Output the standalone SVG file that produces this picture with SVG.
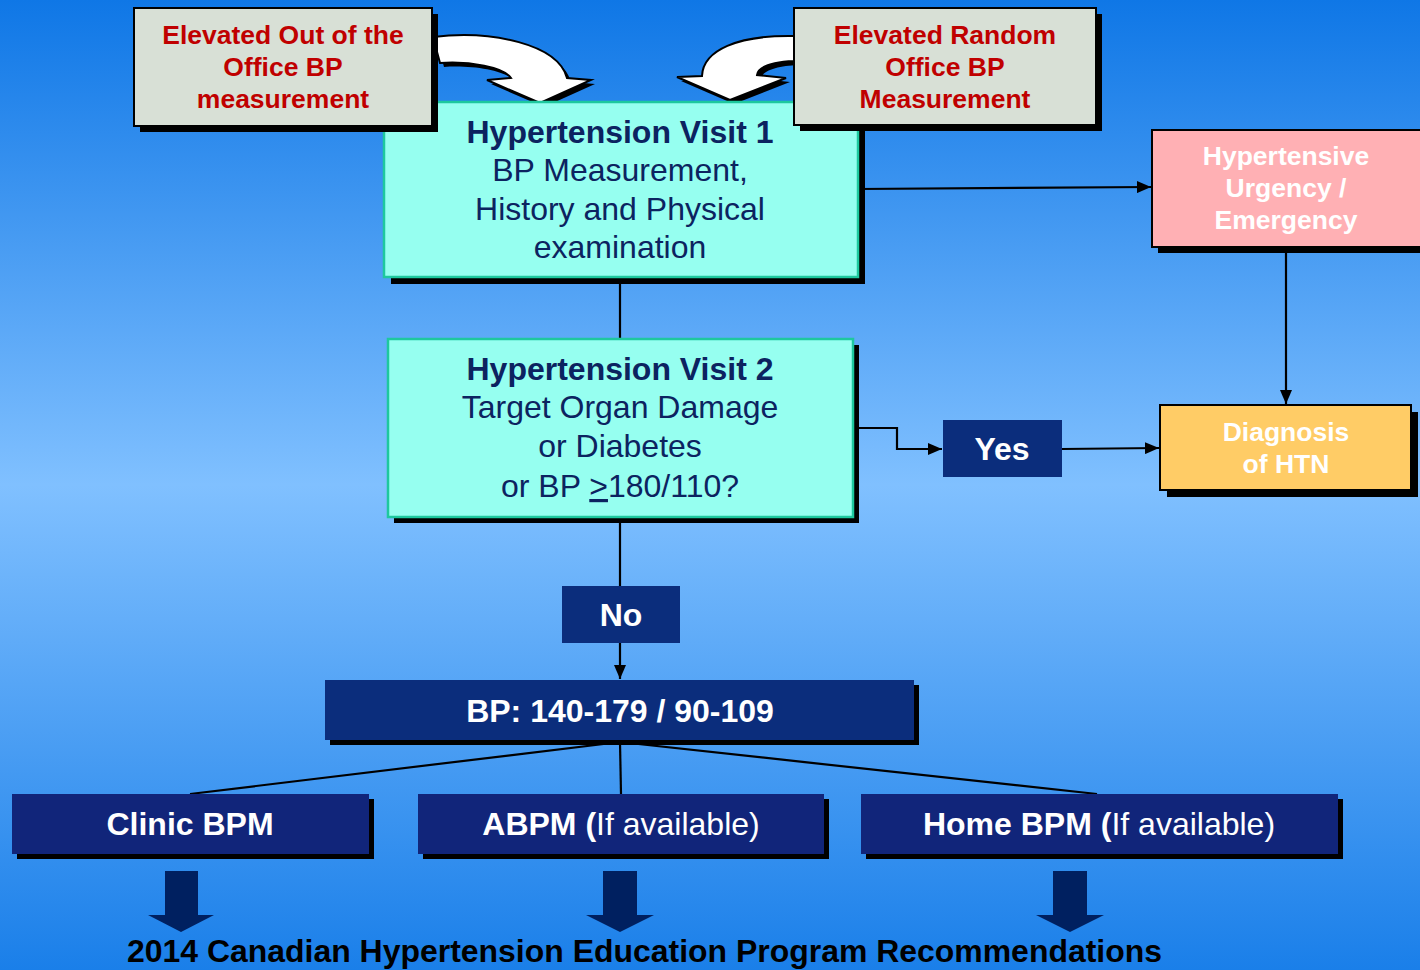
<svg xmlns="http://www.w3.org/2000/svg" width="1420" height="970" viewBox="0 0 1420 970">
<defs>
<linearGradient id="bg" x1="0" y1="0" x2="0" y2="1">
<stop offset="0" stop-color="#0f77e6"/>
<stop offset="0.5" stop-color="#80c0ff"/>
<stop offset="1" stop-color="#1a7fe9"/>
</linearGradient>
<marker id="ah" viewBox="0 0 14 12" refX="14" refY="6" markerWidth="14" markerHeight="12" markerUnits="userSpaceOnUse" orient="auto">
<path d="M0,0 L14,6 L0,12 Z" fill="#000"/>
</marker>
<style>
text{font-family:"Liberation Sans",Arial,sans-serif;text-anchor:middle}
.gray{fill:#d8e0d6;stroke:#000;stroke-width:2}
.red{fill:#c00000;font-weight:bold;font-size:26.5px}
.cyan{fill:#96fff0;stroke:#1ec89e;stroke-width:2.5}
.nt{fill:#0c2360;font-size:32px}
.b{font-weight:bold}
.sh{fill:#000}
.navy{fill:#0b2d7c}
.navy2{fill:#11257a}
.wt{fill:#fff;font-weight:bold;font-size:26.5px}
.wl{fill:#fff;font-size:32px}
.conn{stroke:#000;stroke-width:2.2;fill:none}
.dn{fill:#002060}
</style>
</defs>
<rect width="1420" height="970" fill="url(#bg)"/>

<g id="connectors">
<line class="conn" x1="858" y1="189" x2="1151" y2="187" marker-end="url(#ah)"/>
<line class="conn" x1="620" y1="277" x2="620" y2="339"/>
<line class="conn" x1="1286" y1="247" x2="1286" y2="404" marker-end="url(#ah)"/>
<polyline class="conn" points="853,428 897,428 897,449 942,449" marker-end="url(#ah)"/>
<line class="conn" x1="1062" y1="449" x2="1159" y2="448" marker-end="url(#ah)"/>
<line class="conn" x1="620" y1="517" x2="620" y2="586"/>
<line class="conn" x1="620" y1="643" x2="620" y2="679" marker-end="url(#ah)"/>
<line class="conn" x1="620" y1="742" x2="190" y2="794"/>
<line class="conn" x1="620" y1="742" x2="621" y2="794"/>
<line class="conn" x1="620" y1="742" x2="1097" y2="794"/>
</g>

<g id="curved-arrows">
<path transform="translate(4,4)" class="sh" d="M433,37 C492,30 558,44 567,78 L591,80 L540,103 L487,80 L511,78 C504,67 470,61 440,63 Z"/>
<path fill="#fff" stroke="#000" stroke-width="2" d="M433,37 C492,30 558,44 567,78 L591,80 L540,103 L487,80 L511,78 C504,67 470,61 440,63 Z"/>
<path transform="translate(4,4)" class="sh" d="M794,36 C738,35 703,50 702,76 L677,77 L730,100 L786,78 L757,75 C758,66 775,62 794,61 Z"/>
<path fill="#fff" stroke="#000" stroke-width="2" d="M794,36 C738,35 703,50 702,76 L677,77 L730,100 L786,78 L757,75 C758,66 775,62 794,61 Z"/>
</g>

<g id="visit1">
<rect class="sh" x="391" y="109" width="474" height="175"/>
<rect class="cyan" x="384" y="102" width="474" height="175"/>
<text class="nt b" x="620" y="143">Hypertension Visit 1</text>
<text class="nt" x="620" y="181">BP Measurement,</text>
<text class="nt" x="620" y="220">History and Physical</text>
<text class="nt" x="620" y="258">examination</text>
</g>

<g id="out-office">
<rect class="sh" x="140" y="14" width="298" height="118"/>
<rect class="gray" x="134" y="8" width="298" height="118"/>
<text class="red" x="283" y="44">Elevated Out of the</text>
<text class="red" x="283" y="76">Office BP</text>
<text class="red" x="283" y="108">measurement</text>
</g>

<g id="random-office">
<rect class="sh" x="800" y="14" width="302" height="117"/>
<rect class="gray" x="794" y="8" width="302" height="117"/>
<text class="red" x="945" y="44">Elevated Random</text>
<text class="red" x="945" y="76">Office BP</text>
<text class="red" x="945" y="108">Measurement</text>
</g>

<g id="urgency">
<rect class="sh" x="1158" y="136" width="270" height="117"/>
<rect fill="#ffb0b4" stroke="#000" stroke-width="2" x="1152" y="130" width="270" height="117"/>
<text class="wt" x="1286" y="165">Hypertensive</text>
<text class="wt" x="1286" y="197">Urgency /</text>
<text class="wt" x="1286" y="229">Emergency</text>
</g>

<g id="visit2">
<rect class="sh" x="394" y="345" width="465" height="178"/>
<rect class="cyan" x="388" y="339" width="465" height="178"/>
<text class="nt b" x="620" y="380">Hypertension Visit 2</text>
<text class="nt" x="620" y="418">Target Organ Damage</text>
<text class="nt" x="620" y="457">or Diabetes</text>
<text class="nt" x="620" y="497">or BP <tspan text-decoration="underline">&gt;</tspan>180/110?</text>
</g>

<g id="yes">
<rect class="navy" x="943" y="420" width="119" height="57"/>
<text class="wl b" x="1002" y="460">Yes</text>
</g>

<g id="diagnosis">
<rect class="sh" x="1167" y="412" width="251" height="85"/>
<rect fill="#ffcc66" stroke="#000" stroke-width="2" x="1160" y="405" width="251" height="85"/>
<text class="wt" x="1286" y="441">Diagnosis</text>
<text class="wt" x="1286" y="473">of HTN</text>
</g>

<g id="no">
<rect class="navy" x="562" y="586" width="118" height="57"/>
<text class="wl b" x="621" y="626">No</text>
</g>

<g id="bp-range">
<rect class="sh" x="330" y="685" width="589" height="60"/>
<rect class="navy" x="325" y="680" width="589" height="60"/>
<text class="wl b" x="620" y="722">BP: 140-179 / 90-109</text>
</g>

<g id="clinic">
<rect class="sh" x="17" y="799" width="357" height="60"/>
<rect class="navy2" x="12" y="794" width="357" height="60"/>
<text class="wl b" x="190" y="835">Clinic BPM</text>
</g>

<g id="abpm">
<rect class="sh" x="423" y="799" width="406" height="60"/>
<rect class="navy2" x="418" y="794" width="406" height="60"/>
<text class="wl" x="621" y="835"><tspan class="b">ABPM (</tspan>If available)</text>
</g>

<g id="home">
<rect class="sh" x="866" y="799" width="477" height="60"/>
<rect class="navy2" x="861" y="794" width="477" height="60"/>
<text class="wl" x="1099" y="835"><tspan class="b">Home BPM (</tspan>If available)</text>
</g>

<g id="down-arrows">
<polygon class="dn" points="165,871 198,871 198,915 214,915 181,932 148,915 165,915"/>
<polygon class="dn" points="603,871 637,871 637,915 654,915 620,932 586,915 603,915"/>
<polygon class="dn" points="1053,871 1087,871 1087,915 1104,915 1070,932 1036,915 1053,915"/>
</g>

<text x="127" y="962" style="text-anchor:start;font-weight:bold;font-size:31px;fill:#000" textLength="1035" lengthAdjust="spacingAndGlyphs">2014 Canadian Hypertension Education Program Recommendations</text>
</svg>
